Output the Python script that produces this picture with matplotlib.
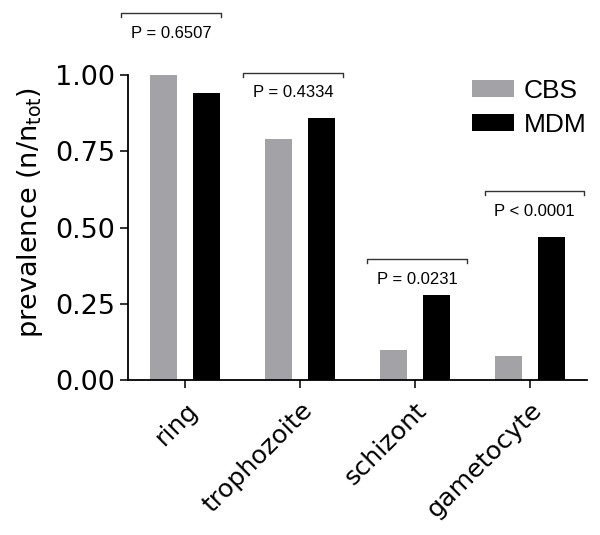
import matplotlib
matplotlib.use("Agg")
import matplotlib.pyplot as plt
import numpy as np

categories = ["ring", "trophozoite", "schizont", "gametocyte"]
cbs = [1.00, 0.79, 0.10, 0.08]
mdm = [0.94, 0.86, 0.28, 0.47]
p_labels = ["P = 0.6507", "P = 0.4334", "P = 0.0231", "P < 0.0001"]
bracket_y = [1.204, 1.008, 0.396, 0.620]
bracket_x0 = [-0.557, 0.504, 1.583, 2.609]
bracket_x1 = [0.313, 1.374, 2.452, 3.478]
yticks = [0.0, 0.25, 0.5, 0.75, 1.0]
ytick_labels = ["0.00", "0.25", "0.50", "0.75", "1.00"]

gray = "#a3a2a7"
fig = plt.figure(figsize=(6.0, 5.35), dpi=100)
ax = fig.add_axes([128/600, 1-380/535, 459/600, 305/535])

x = np.arange(len(categories))
w = 0.235
off = 0.187
ax.bar(x - off, cbs, width=w, color=gray, label="CBS")
ax.bar(x + off, mdm, width=w, color="black", label="MDM")

ax.set_xlim(-0.5, 3.5)
ax.set_ylim(0, 1.0)
ax.set_yticks(yticks)
ax.set_yticklabels(ytick_labels, fontsize=19.5, family="DejaVu Sans")
ax.set_xticks(x)
ax.set_xticklabels(categories, fontsize=18.3, family="DejaVu Sans", rotation=45,
                   ha="right", rotation_mode="anchor")
ax.spines["top"].set_visible(False)
ax.spines["right"].set_visible(False)
for s in ("left", "bottom"):
    ax.spines[s].set_linewidth(1.3)
ax.tick_params(axis="both", width=1.3, length=6, color="#222222")
ax.tick_params(axis="y", pad=3)
ax.tick_params(axis="x", pad=7)
ax.set_ylabel("prevalence (n/n$_{\\mathrm{tot}}$)", fontsize=19.5, family="DejaVu Sans")
ax.yaxis.set_label_coords(-0.181, 0.551)

drop = 4 / 305
for x0, x1, yb, lab in zip(bracket_x0, bracket_x1, bracket_y, p_labels):
    ax.plot([x0, x0, x1, x1], [yb - drop, yb, yb, yb - drop], color="#333333",
            lw=1.0, clip_on=False)
    ax.text((x0 + x1) / 2, yb - 0.042, lab, ha="center", va="top",
            family="Liberation Sans", fontsize=12, clip_on=False)

leg = ax.legend(loc="upper left", bbox_to_anchor=(472/600, 1-79/535),
                bbox_transform=fig.transFigure, frameon=False,
                prop={"family": "Liberation Sans", "size": 19},
                handlelength=1.6, handleheight=0.6, handletextpad=0.35,
                labelspacing=0.36, borderpad=0, borderaxespad=0)

fig.savefig("out.png", dpi=100)
